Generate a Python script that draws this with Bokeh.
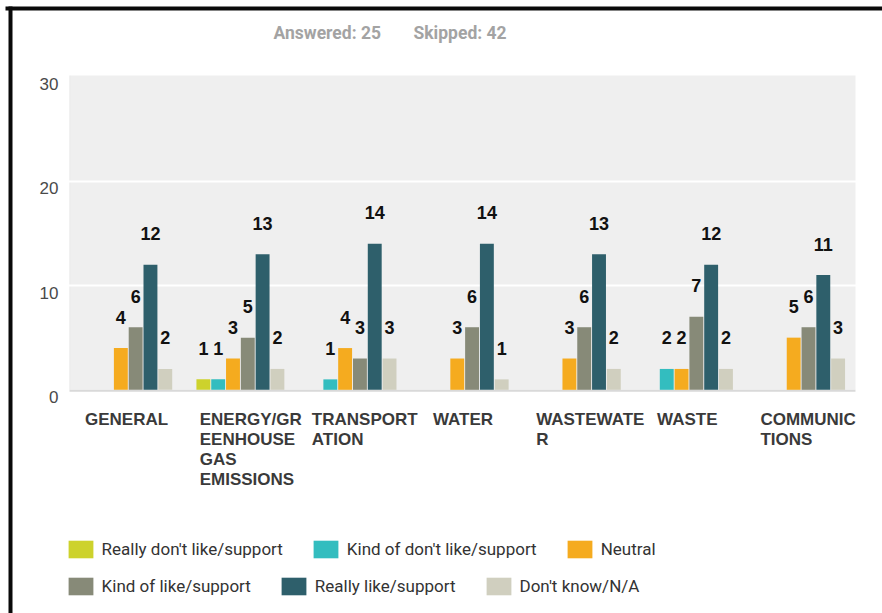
import numpy as np
from bokeh.plotting import figure
from bokeh.models import (ColumnDataSource, Range1d, BoxAnnotation, Grid, FixedTicker,
                          Legend, LegendItem)
from bokeh.core.properties import value
from bokeh.embed import file_html
from bokeh.resources import INLINE

# ---------------- data ----------------
categories = ["GENERAL", "ENERGY/GREENHOUSE GAS EMISSIONS", "TRANSPORTATION", "WATER",
              "WASTEWATER", "WASTE", "COMMUNICTIONS"]
category_labels = ["GENERAL", "ENERGY/GR\nEENHOUSE\nGAS\nEMISSIONS", "TRANSPORT\nATION", "WATER",
                   "WASTEWATE\nR", "WASTE", "COMMUNIC\nTIONS"]
series_names = ["Really don't like/support", "Kind of don't like/support", "Neutral",
                "Kind of like/support", "Really like/support", "Don't know/N/A"]
really_dont_like = [0, 1, 0, 0, 0, 0, 0]
kind_of_dont_like = [0, 1, 1, 0, 0, 2, 0]
neutral = [4, 3, 4, 3, 3, 2, 5]
kind_of_like = [6, 5, 3, 6, 6, 7, 6]
really_like = [12, 13, 14, 14, 13, 12, 11]
dont_know = [2, 2, 3, 1, 2, 2, 3]
y_ticks = [0, 10, 20, 30]
answered_text = "Answered: 25"
skipped_text = "Skipped: 42"

series_values = [really_dont_like, kind_of_dont_like, neutral, kind_of_like, really_like, dont_know]
series_colors = ["#cdd22c", "#33bdbf", "#f5ab1f", "#878a78", "#2e5f6b", "#d0cfbf"]

# ---------------- geometry (page pixels -> data) ----------------
FIG_W, FIG_H = 882, 613
CAT_X0_PX, CAT_PX = 70.0, 112.14
ZERO_PX, UNIT_PX = 389.3, 10.43
Y_TOP = 30.0


def px_to_x(px):
    return (px - CAT_X0_PX) / CAT_PX


def px_to_y(py):
    return (ZERO_PX - py) / UNIT_PX


XS, XE = px_to_x(0), px_to_x(FIG_W)
YS, YE = px_to_y(FIG_H), px_to_y(0)
n_cat = len(categories)

p = figure(width=FIG_W, height=FIG_H, x_range=Range1d(XS, XE), y_range=Range1d(YS, YE),
           output_backend="svg", toolbar_location=None, min_border=0,
           x_axis_location=None, y_axis_location=None,
           outline_line_color=None, background_fill_color="white", border_fill_color="white")
p.grid.visible = False

# plot-area background
p.add_layout(BoxAnnotation(left=0, right=n_cat, bottom=0, top=Y_TOP + 0.13,
                           fill_color="#efefef", fill_alpha=1, line_color=None, level="image"))
p.add_layout(BoxAnnotation(left=px_to_x(69), right=0, bottom=0, top=Y_TOP + 0.13,
                           fill_color="#e3e3e3", fill_alpha=1, line_color=None, level="image"))
# white grid lines
p.add_layout(Grid(dimension=1, ticker=FixedTicker(ticks=[10, 20]),
                  grid_line_color="white", grid_line_width=2))
# baseline
p.add_layout(BoxAnnotation(left=px_to_x(69), right=n_cat, top=0, bottom=px_to_y(ZERO_PX + 2),
                           fill_color="#d9d9d9", fill_alpha=1, line_color=None, level="underlay"))

# outer border (top and left black lines)
p.add_layout(BoxAnnotation(left=px_to_x(5), right=XE, top=px_to_y(6), bottom=px_to_y(10),
                           fill_color="#0a0a0a", fill_alpha=1, line_color=None, level="overlay"))
p.add_layout(BoxAnnotation(left=px_to_x(8), right=px_to_x(12), top=px_to_y(6), bottom=YS,
                           fill_color="#0a0a0a", fill_alpha=1, line_color=None, level="overlay"))

# ---------------- bars ----------------
step, bar_w, shift = 0.132, 0.124, 0.015
centers = np.arange(n_cat) + 0.5
renderers = []
for i, (vals, col) in enumerate(zip(series_values, series_colors)):
    xs = centers + (i - 2.5) * step + shift
    src = ColumnDataSource(dict(x=xs, top=vals))
    r = p.vbar(x="x", top="top", width=bar_w, bottom=0, source=src,
               fill_color=col, line_color=None)
    renderers.append(r)
    keep = [k for k, v in enumerate(vals) if v > 0]
    p.text(x=[xs[k] for k in keep], y=[vals[k] for k in keep], text=[str(vals[k]) for k in keep],
           text_align="center", text_baseline="middle", y_offset=-31,
           text_font=value("Liberation Sans"), text_font_style="bold",
           text_font_size="18px", text_color="#111111")

# ---------------- category labels ----------------
single = [k for k, l in enumerate(category_labels) if "\n" not in l]
multi = [k for k, l in enumerate(category_labels) if "\n" in l]
lab_kw = dict(text_font=value("Liberation Sans"), text_font_style="bold", text_font_size="17px",
              text_color="#3a3a3a", text_baseline="top", y_offset=20.5, text_line_height=1.04)
p.text(x=[centers[k] for k in single], y=[0] * len(single), text=[category_labels[k] for k in single],
       text_align="center", **lab_kw)
p.text(x=[centers[k] for k in multi], y=[0] * len(multi), text=[category_labels[k] for k in multi],
       text_align="left", x_offset=-39, **lab_kw)

# ---------------- y tick labels ----------------
p.text(x=[0] * len(y_ticks), y=y_ticks, text=[str(t) for t in y_ticks],
       text_align="right", text_baseline="middle", x_offset=-12, y_offset=7,
       text_font=value("Liberation Sans"), text_font_size="17px", text_color="#4a4a4a")

# ---------------- header ----------------
head_kw = dict(text_align="left", text_baseline="middle", text_font=value("Roboto"),
               text_font_style="bold", text_font_size="17.5px", text_color="#a3a3a3")
p.text(x=[px_to_x(273)], y=[px_to_y(32)], text=[answered_text], **head_kw)
p.text(x=[px_to_x(413)], y=[px_to_y(32)], text=[skipped_text], **head_kw)

# ---------------- legends ----------------
leg_kw = dict(orientation="horizontal", glyph_width=31, glyph_height=22, label_standoff=6,
              spacing=27, padding=0, margin=0, border_line_alpha=0, background_fill_alpha=0,
              label_text_font="Roboto", label_text_font_size="17px",
              label_text_color="#333333", label_height=22)
leg1 = Legend(items=[LegendItem(label=series_names[i], renderers=[renderers[i]]) for i in range(3)],
              location=(67.7 - 3.1, FIG_H - (557.5 + 2.2)), **leg_kw)
leg2 = Legend(items=[LegendItem(label=series_names[i], renderers=[renderers[i]]) for i in range(3, 6)],
              location=(67.7 - 3.1, FIG_H - (594.5 + 2.2)), **leg_kw)
p.add_layout(leg1)
p.add_layout(leg2)

open("out.html", "w").write(file_html(p, INLINE))
